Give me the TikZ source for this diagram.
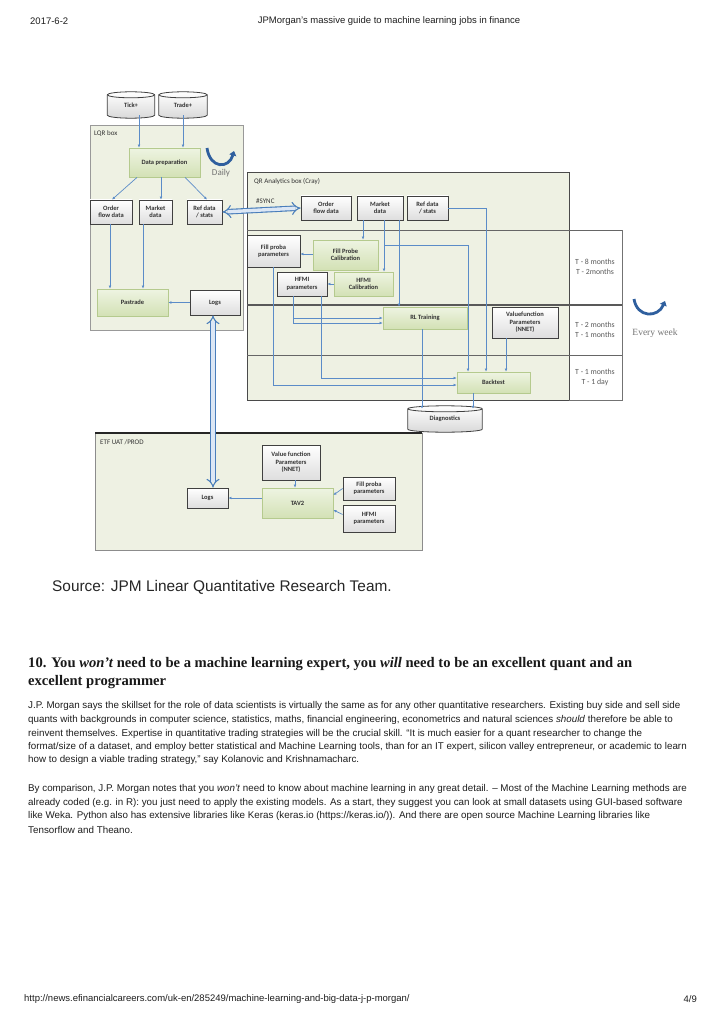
\documentclass[tikz,border=0pt]{standalone}
\usepackage{fontspec}
\setmainfont{Liberation Sans}
\newfontfamily\diagfont{Carlito}
\newfontfamily\headfont{Liberation Serif}
\usetikzlibrary{arrows.meta,calc,shadows}
\pgfdeclarelayer{back}
\pgfdeclarelayer{mid}
\pgfsetlayers{back,mid,main}
\definecolor{panelfill}{HTML}{EEF1E3}
\definecolor{panelline}{HTML}{4A4A4A}
\definecolor{gtop}{HTML}{EEF4E2}
\definecolor{gbot}{HTML}{D3E1B5}
\definecolor{gline}{HTML}{B5CA8E}
\definecolor{lineblue}{HTML}{5B8CC8}
\definecolor{dblblue}{HTML}{4A7EBB}
\definecolor{dblfill}{HTML}{DCE7F5}
\definecolor{curveblue}{HTML}{2F5F9E}
\definecolor{bodytext}{HTML}{1E1E1E}
\newcommand\cylshape[1]{%
  \begin{pgfonlayer}{mid}
  \path[draw=black!75, line width=0.8pt, top color=white, bottom color=black!15]
    let \p1=(#1.north west), \p2=(#1.south east), \n1={(\x2-\x1)/2} in
    (\x1,\y1) -- (\x1,\y2) arc[start angle=180,end angle=360,x radius=\n1,y radius=3pt]
    -- (\x2,\y1) arc[start angle=0,end angle=180,x radius=\n1,y radius=3pt] -- cycle;
  \path[draw=black!75, line width=0.8pt]
    let \p1=(#1.north west), \p2=(#1.south east), \n1={(\x2-\x1)/2} in
    (\x1,\y1) arc[start angle=180,end angle=360,x radius=\n1,y radius=3pt];
  \end{pgfonlayer}}
\begin{document}
\begin{tikzpicture}[x=1pt,y=-1pt,
  sz/.style 2 args={minimum width=#1pt, minimum height=#2pt},
  dfont/.style={font=\diagfont\bfseries\fontsize{6.5}{7.4}\selectfont},
  wbox/.style={dfont, draw=black!75, line width=0.8pt, top color=white, bottom color=black!13,
     align=center, inner sep=0pt, text=black!80,
     drop shadow={opacity=0.25, shadow xshift=0.8pt, shadow yshift=-0.8pt}},
  gbox/.style={dfont, draw=gline, line width=0.8pt, top color=gtop, bottom color=gbot,
     align=center, inner sep=0pt, text=black!80},
  cylnode/.style={dfont, inner sep=0pt, align=center, text=black!80},
  conn/.style={draw=lineblue, line width=0.7pt, -{Latex[length=3pt,width=2.8pt]}},
  dbl/.style={draw=dblblue, line width=1.1pt, double=dblfill, double distance=3.4pt,
     {Implies}-{Implies}},
  curv/.style={draw=curveblue, line width=2.8pt, -{Triangle[length=4.5pt,width=7pt]}},
  plabel/.style={font=\diagfont\fontsize{7}{8}\selectfont, inner sep=0pt, anchor=west, text=black!80},
  tlab/.style={font=\diagfont\fontsize{7.8}{10}\selectfont, align=center, inner sep=0pt, text=black!65},
  page/.style={font=\fontsize{9.5}{11}\selectfont, inner sep=0pt, text=bodytext},
  body/.style={font=\fontsize{9.8}{11}\selectfont, inner sep=0pt, anchor=west, text=bodytext},
  head/.style={font=\headfont\bfseries\fontsize{14.6}{16}\selectfont, inner sep=0pt, anchor=west, text=black!90}
]
\useasboundingbox (0,0) rectangle (723,1024);
\begin{pgfonlayer}{back}
\fill[white] (0,0) rectangle (723,1024);
% panels
\filldraw[fill=panelfill, draw=black!40, line width=0.7pt] (90,125) rectangle (243,330);
\filldraw[fill=panelfill, draw=panelline, line width=0.9pt] (247,172) rectangle (569,400);
\draw[black!55, line width=0.8pt] (569,230) -- (622,230) -- (622,400) -- (569,400);
\draw[black!60, line width=0.8pt] (247,230) -- (622,230);
\draw[black!65, line width=1.5pt] (247,305) -- (622,305);
\draw[black!60, line width=0.8pt] (247,355) -- (622,355);
\filldraw[fill=panelfill, draw=black!45, line width=0.7pt] (95,433) rectangle (422,550);
\draw[black!85, line width=1.4pt] (95,433) -- (422,433);
\end{pgfonlayer}

% header / footer
\node[page, anchor=west] (date) at (30,21) {2017-6-2};
\node[page] (title) at (389,21) {JPMorgan’s massive guide to machine learning jobs in finance};
\node[page, anchor=west] (url) at (24,999) {http://news.efinancialcareers.com/uk-en/285249/machine-learning-and-big-data-j-p-morgan/};
\node[page, anchor=east] (pg) at (697,999) {4/9};

% panel labels
\node[plabel] (lqrlab) at (94,134) {LQR box};
\node[plabel] (qrlab) at (254,182) {QR Analytics box (Cray)};
\node[plabel] (synclab) at (256,201) {\#SYNC};
\node[plabel] (etflab) at (100,442) {ETF UAT /PROD};

% cylinders
\node[cylnode, sz={47}{20}] (tick) at (131,105) {Tick+};
\node[cylnode, sz={48}{20}] (trade) at (183,105) {Trade+};
\node[cylnode, sz={74}{20}] (diag) at (445,419) {Diagnostics};
\cylshape{tick}\cylshape{trade}\cylshape{diag}

% LQR box
\node[gbox, sz={71}{29}] (dataprep) at (164.5,162.5) {Data preparation};
\node[wbox, sz={42}{24}] (lorder) at (111,212) {Order\\flow data};
\node[wbox, sz={33}{24}] (lmarket) at (155.5,212) {Market\\data};
\node[wbox, sz={35}{24}] (lref) at (204.5,212) {Ref data\\/ stats};
\node[gbox, sz={71}{27}] (pastrade) at (132.5,302.5) {Pastrade};
\node[wbox, sz={50}{25}] (llogs) at (215,302.5) {Logs};

% QR box
\node[wbox, sz={50}{24}] (qorder) at (326,208) {Order\\flow data};
\node[wbox, sz={46}{24}] (qmarket) at (380,208) {Market\\data};
\node[wbox, sz={41}{24}] (qref) at (427.5,208) {Ref data\\/ stats};
\node[wbox, sz={53}{32}] (fpp) at (273.5,251) {Fill proba\\parameters};
\node[gbox, sz={65}{30}] (fpc) at (345.5,255) {Fill Probe\\Calibration};
\node[wbox, sz={50}{24}] (hfp) at (302,284) {HFMI\\parameters};
\node[gbox, sz={59}{24}] (hfc) at (363.5,284) {HFMI\\Calibration};
\node[gbox, sz={84}{22}] (rl) at (425,318) {RL Training};
\node[wbox, sz={66}{31}] (vfp) at (525,322.5) {Valuefunction\\Parameters\\(NNET)};
\node[gbox, sz={73}{21}] (bt) at (493.5,382.5) {Backtest};

% time labels
\node[tlab] (t1) at (595,267) {T - 8 months\\T - 2months};
\node[tlab] (t2) at (595,330) {T - 2 months\\T - 1 months};
\node[tlab] (t3) at (595,377) {T - 1 months\\T - 1 day};

% ETF box
\node[wbox, sz={58}{35}] (evf) at (291,462.5) {Value function\\Parameters\\(NNET)};
\node[gbox, sz={71}{30}] (tav) at (297.5,503) {TAV2};
\node[wbox, sz={52}{23}] (efp) at (369,488.5) {Fill proba\\parameters};
\node[wbox, sz={52}{27}] (ehf) at (369,518.5) {HFMI\\parameters};
\node[wbox, sz={41}{20}] (elogs) at (207.5,498) {Logs};

% curved arrows
\draw[curv] (207,148) .. controls (210,169) and (229,169) .. (234,151);
\node[font=\diagfont\fontsize{9}{10}\selectfont, text=black!55, inner sep=0] (daily) at (221,173) {Daily};
\draw[curv] (634,299) .. controls (637,318) and (658,318) .. (665,301);
\node[font=\headfont\fontsize{9.5}{11}\selectfont, text=black!55, inner sep=0] (week) at (655,333) {Every week};

% connectors LQR
\draw[conn] ([xshift=8]tick.south) -- ([xshift=8]tick.south |- dataprep.north);
\draw[conn] (trade.south) -- (trade.south |- dataprep.north);
\draw[conn] ([xshift=-27.5]dataprep.south) -- ([xshift=1]lorder.north);
\draw[conn] ([xshift=-3.5]dataprep.south) -- ([xshift=5.5]lmarket.north);
\draw[conn] ([xshift=20.5]dataprep.south) -- ([xshift=2.5]lref.north);
\draw[conn] ([xshift=-1]lorder.south) -- ([xshift=-1]lorder.south |- pastrade.north);
\draw[conn] ([xshift=-12.5]lmarket.south) -- ([xshift=-12.5]lmarket.south |- pastrade.north);
\draw[conn] (llogs.west) -- (pastrade.east);
\draw[dbl] ([xshift=-2]llogs.south) -- ([xshift=-2]llogs.south |- elogs.north);
\draw[dbl] (lref.east) -- (qorder.west);

% connectors QR
\draw[conn] ([xshift=-17]qmarket.south) -- ([xshift=-17]qmarket.south |- fpc.north);
\draw[conn] (fpc.west |- 0,254) -- (fpp.east |- 0,254);
\draw[conn] (hfc.west) -- (hfp.east);
\draw[conn] ([xshift=4]qmarket.south) -- ([xshift=4]qmarket.south |- hfc.north);
\draw[conn] ([xshift=19]qmarket.south) -- ([xshift=19]qmarket.south |- rl.north);
\draw[conn] ([xshift=4]qmarket.south) ++(0,25) -| ([xshift=-25.5]bt.north);
\draw[conn] (qref.east) -| ([xshift=-7.5]bt.north);
\draw[conn] ([xshift=-19]vfp.south) -- ([xshift=-19]vfp.south |- bt.north);
\draw[conn] (fpp.south) |- ([yshift=-2.5]bt.west);
\draw[conn] ([xshift=19]hfp.south) |- ([yshift=4.5]bt.west);
\draw[conn] ([xshift=-9]hfp.south) |- ([yshift=-5]rl.west);
\draw[conn] ([xshift=-9]hfp.south |- rl.west) -- (rl.west);
\draw[conn] ([xshift=-3]rl.south) -- ([xshift=-3]rl.south |- diag.north);
\draw[conn] ([xshift=-20.5]bt.south) -- ([xshift=-20.5]bt.south |- diag.north);

% connectors ETF
\draw[conn] ([xshift=4]evf.south) -- ([xshift=4]evf.south |- tav.north);
\draw[conn] (tav.west |- elogs.east) -- (elogs.east);
\draw[conn] (efp.west) -- ([yshift=8]tav.east);
\draw[conn] ([yshift=4]ehf.west) -- ([yshift=-7]tav.east);

% source
\node[font=\fontsize{15.4}{17}\selectfont, text=black!85, inner sep=0, anchor=west] (src) at (52,587) {Source: JPM Linear Quantitative Research Team.};

% heading
\node[head] (h1) at (28,664) {10. You \textit{won’t} need to be a machine learning expert, you \textit{will} need to be an excellent quant and an};
\node[head] (h2) at (28,682) {excellent programmer};

% paragraph 1
\node[body] (p1) at (28,706) {J.P. Morgan says the skillset for the role of data scientists is virtually the same as for any other quantitative researchers. Existing buy side and sell side};
\node[body] (p2) at (28,720) {quants with backgrounds in computer science, statistics, maths, financial engineering, econometrics and natural sciences \textit{should} therefore be able to};
\node[body] (p3) at (28,734) {reinvent themselves. Expertise in quantitative trading strategies will be the crucial skill. “It is much easier for a quant researcher to change the};
\node[body] (p4) at (28,747) {format/size of a dataset, and employ better statistical and Machine Learning tools, than for an IT expert, silicon valley entrepreneur, or academic to learn};
\node[body] (p5) at (28,760) {how to design a viable trading strategy,” say Kolanovic and Krishnamacharc.};

% paragraph 2
\node[body] (q1) at (28,789) {By comparison, J.P. Morgan notes that you \textit{won’t} need to know about machine learning in any great detail. – Most of the Machine Learning methods are};
\node[body] (q2) at (28,803) {already coded (e.g. in R): you just need to apply the existing models. As a start, they suggest you can look at small datasets using GUI-based software};
\node[body] (q3) at (28,816) {like Weka. Python also has extensive libraries like Keras (keras.io (https://keras.io/)). And there are open source Machine Learning libraries like};
\node[body] (q4) at (28,830) {Tensorflow and Theano.};
\end{tikzpicture}
\end{document}
